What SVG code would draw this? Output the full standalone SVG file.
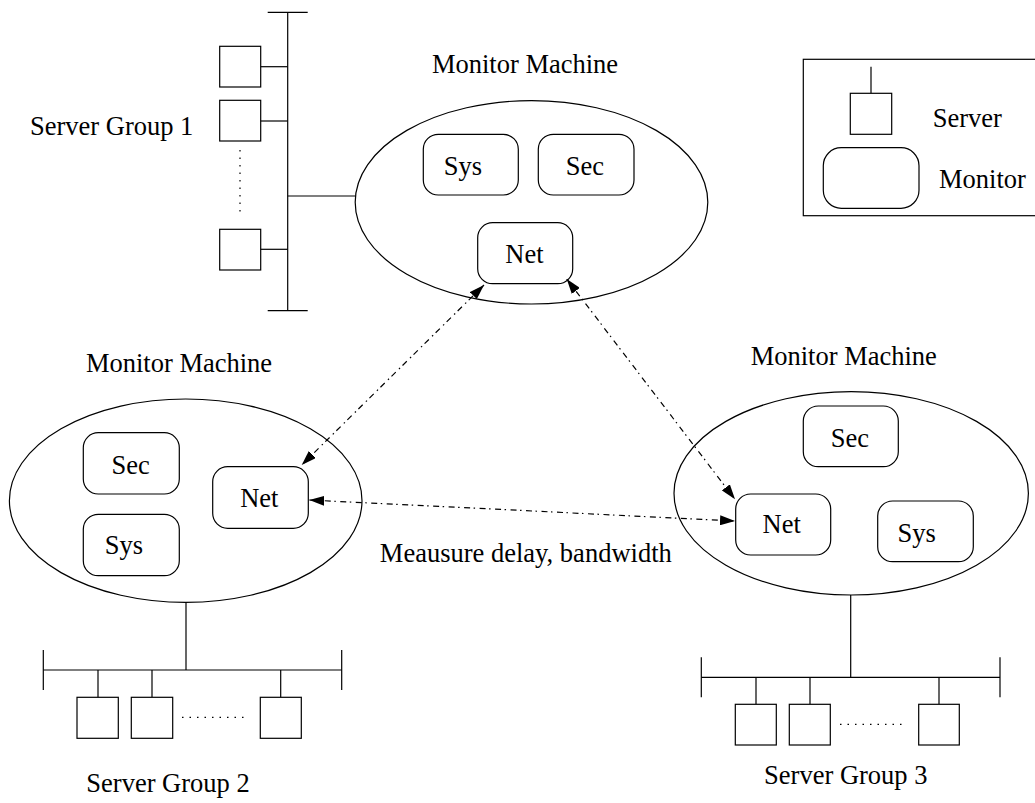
<svg xmlns="http://www.w3.org/2000/svg" width="1035" height="803" viewBox="0 0 1035 803">
<defs>
<style>
.s{fill:none;stroke:#000;stroke-width:1.2}
.box{fill:#fff;stroke:#000;stroke-width:1.2}
.t{font-family:"Liberation Serif","Times New Roman",serif;font-size:26.5px;fill:#000}
.m{text-anchor:middle}
.dot{fill:none;stroke:#000;stroke-width:1.2;stroke-dasharray:1.5 6}
.conn{fill:none;stroke:#000;stroke-width:1.2;stroke-dasharray:6 3.5 1.5 4.5;marker-start:url(#ah);marker-end:url(#ah)}
</style>
<marker id="ah" markerUnits="userSpaceOnUse" markerWidth="16" markerHeight="10" refX="15" refY="5" orient="auto-start-reverse">
<path d="M0,0 L15,5 L0,10 z" fill="#000"/>
</marker>
</defs>
<rect width="1035" height="803" fill="#fff"/>

<g id="legend">
<rect class="s" x="803.3" y="59.3" width="240" height="156.4"/>
<line class="s" x1="871" y1="66.7" x2="871" y2="93.3"/>
<rect class="box" x="850.3" y="93.3" width="41.4" height="41"/>
<text class="t" x="932.7" y="127.3">Server</text>
<rect class="box" x="823.3" y="147.7" width="95.7" height="60.6" rx="18" ry="18"/>
<text class="t" x="939" y="188.3">Monitor</text>
</g>

<g id="server-group-1">
<line class="s" x1="287.7" y1="12.3" x2="287.7" y2="310.7"/>
<line class="s" x1="267.7" y1="12.3" x2="307.7" y2="12.3"/>
<line class="s" x1="267.7" y1="310.7" x2="307.7" y2="310.7"/>
<rect class="box" x="219.7" y="46.3" width="41" height="40.7"/>
<rect class="box" x="219.7" y="100.3" width="41" height="40.7"/>
<rect class="box" x="219.7" y="229.3" width="41" height="40.7"/>
<line class="s" x1="260.7" y1="66.7" x2="287.7" y2="66.7"/>
<line class="s" x1="260.7" y1="121" x2="287.7" y2="121"/>
<line class="s" x1="260.7" y1="249.3" x2="287.7" y2="249.3"/>
<line class="dot" x1="240" y1="150" x2="240" y2="216"/>
<line class="s" x1="287.7" y1="196" x2="355.3" y2="196"/>
<text class="t" x="30" y="135">Server Group 1</text>
</g>

<g id="monitor-top">
<ellipse class="s" cx="531.5" cy="202.3" rx="176.3" ry="101.7"/>
<text class="t m" x="525" y="72.7">Monitor Machine</text>
<rect class="box" x="423.3" y="134.3" width="95" height="60.7" rx="15" ry="15"/>
<text class="t m" x="463" y="175">Sys</text>
<rect class="box" x="538.3" y="134.3" width="95.7" height="60.7" rx="15" ry="15"/>
<text class="t m" x="585" y="175">Sec</text>
<rect class="box" x="477.7" y="222.7" width="95" height="61" rx="15" ry="15"/>
<text class="t m" x="524.5" y="263.3">Net</text>
</g>

<g id="monitor-left">
<ellipse class="s" cx="185.7" cy="500.7" rx="176.3" ry="101.7"/>
<text class="t m" x="179" y="371.7">Monitor Machine</text>
<rect class="box" x="83.3" y="432.7" width="96" height="61.3" rx="15" ry="15"/>
<text class="t m" x="130.7" y="474">Sec</text>
<rect class="box" x="83.3" y="514.3" width="96" height="61.4" rx="15" ry="15"/>
<text class="t m" x="124" y="554">Sys</text>
<rect class="box" x="212.7" y="466.7" width="95.6" height="61.6" rx="15" ry="15"/>
<text class="t m" x="259.3" y="507.3">Net</text>
</g>

<g id="server-group-2">
<line class="s" x1="186" y1="602.4" x2="186" y2="670"/>
<line class="s" x1="43.3" y1="670" x2="341.7" y2="670"/>
<line class="s" x1="43.3" y1="650" x2="43.3" y2="690"/>
<line class="s" x1="341.7" y1="650" x2="341.7" y2="690"/>
<line class="s" x1="98" y1="670" x2="98" y2="697.3"/>
<line class="s" x1="152" y1="670" x2="152" y2="697.3"/>
<line class="s" x1="280.7" y1="670" x2="280.7" y2="697.3"/>
<rect class="box" x="77" y="697.3" width="41.3" height="41"/>
<rect class="box" x="131.3" y="697.3" width="41.4" height="41"/>
<rect class="box" x="260.3" y="697.3" width="41" height="41"/>
<line class="dot" x1="182" y1="717.3" x2="248" y2="717.3"/>
<text class="t m" x="168" y="791.7">Server Group 2</text>
</g>

<g id="monitor-right">
<ellipse class="s" cx="851.2" cy="493.3" rx="177.2" ry="101.7"/>
<text class="t m" x="843.8" y="365">Monitor Machine</text>
<rect class="box" x="803.3" y="406" width="95" height="60.7" rx="15" ry="15"/>
<text class="t m" x="850" y="446.7">Sec</text>
<rect class="box" x="735.7" y="494" width="95" height="61" rx="15" ry="15"/>
<text class="t m" x="781.7" y="533.3">Net</text>
<rect class="box" x="877.7" y="501" width="95.6" height="60.7" rx="15" ry="15"/>
<text class="t m" x="916.7" y="541.7">Sys</text>
</g>

<g id="server-group-3">
<line class="s" x1="850.7" y1="595" x2="850.7" y2="677.3"/>
<line class="s" x1="701.3" y1="677.3" x2="1000" y2="677.3"/>
<line class="s" x1="701.3" y1="657.3" x2="701.3" y2="697.3"/>
<line class="s" x1="1000" y1="657.3" x2="1000" y2="697.3"/>
<line class="s" x1="756" y1="677.3" x2="756" y2="704.3"/>
<line class="s" x1="810" y1="677.3" x2="810" y2="704.3"/>
<line class="s" x1="939" y1="677.3" x2="939" y2="704.3"/>
<rect class="box" x="735.3" y="704.3" width="41" height="40.7"/>
<rect class="box" x="789.3" y="704.3" width="41" height="40.7"/>
<rect class="box" x="918.7" y="704.3" width="40.6" height="40.7"/>
<line class="dot" x1="840" y1="724.3" x2="906" y2="724.3"/>
<text class="t m" x="845.8" y="784">Server Group 3</text>
</g>

<g id="connectors">
<line class="conn" x1="484" y1="285" x2="301.7" y2="465"/>
<line class="conn" x1="566.7" y1="279" x2="735" y2="499.3"/>
<line class="conn" x1="309.3" y1="500" x2="735" y2="521"/>
<text class="t m" x="525.8" y="561.7">Meausure delay, bandwidth</text>
</g>
</svg>
